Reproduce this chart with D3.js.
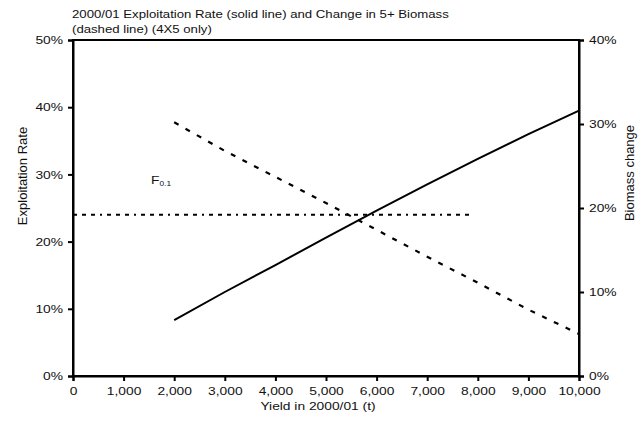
<!DOCTYPE html>
<html>
<head>
<meta charset="utf-8">
<script src="https://cdn.jsdelivr.net/npm/d3@7"></script>
<style>
  body { margin: 0; background: #fff; }
  svg { display: block; font-family: "Liberation Sans", Arial, sans-serif; }
</style>
</head>
<body>
<svg id="chart" width="644" height="425"></svg>
<script>
// ---- Data ----
const yields = [2000, 3000, 4000, 5000, 6000, 7000, 8000, 9000, 10000];
const exploitationRate = [0.083, 0.125, 0.165, 0.206, 0.246, 0.285, 0.323, 0.360, 0.395];
const biomassChange = [0.302, 0.268, 0.237, 0.206, 0.174, 0.142, 0.111, 0.079, 0.050];
const fRefYields = [0, 7900];
const fRefValue = 0.24;
const xTicks = [0, 1000, 2000, 3000, 4000, 5000, 6000, 7000, 8000, 9000, 10000];
const leftTicks = [0, 0.1, 0.2, 0.3, 0.4, 0.5];
const rightTicks = [0, 0.1, 0.2, 0.3, 0.4];
const titleLines = ["2000/01 Exploitation Rate (solid line) and Change in 5+ Biomass", "(dashed line) (4X5 only)"];

const svg = d3.select("#chart");
const L = 73, R = 579, T = 40, B = 376;
const SX = 1.2; // horizontal text stretch seen in the reference
const INK = "#111";

const x = d3.scaleLinear().domain([0, 10000]).range([L, R]);
const yL = d3.scaleLinear().domain([0, 0.5]).range([B, T]);
const yR = d3.scaleLinear().domain([0, 0.4]).range([B, T]);

function stretch(sel) {
  sel.each(function() {
    const t = d3.select(this);
    const xv = +t.attr("x") || 0;
    t.attr("x", xv / SX).attr("transform", `scale(${SX},1)`);
  });
}

// frame
svg.append("rect").attr("x", L).attr("y", T).attr("width", R - L).attr("height", B - T)
  .attr("fill", "none").attr("stroke", "#000").attr("stroke-width", 2);

const fmtPct = d3.format(".0%");
const axL = svg.append("g").attr("transform", `translate(${L},0)`)
  .call(d3.axisLeft(yL).tickValues(leftTicks).tickFormat(fmtPct).tickSize(5).tickPadding(5));
const axR = svg.append("g").attr("transform", `translate(${R},0)`)
  .call(d3.axisRight(yR).tickValues(rightTicks).tickFormat(fmtPct).tickSize(5).tickPadding(5));
const axB = svg.append("g").attr("transform", `translate(0,${B})`)
  .call(d3.axisBottom(x).tickValues(xTicks).tickFormat(d3.format(",")).tickSize(5).tickPadding(6));

[axL, axR, axB].forEach(g => {
  g.select(".domain").attr("stroke", "#000").attr("stroke-width", 2);
  g.selectAll(".tick line").attr("stroke", "#000").attr("stroke-width", 2);
  g.selectAll(".tick text").attr("fill", INK).attr("font-size", 11.5)
    .attr("font-family", "Liberation Sans, Arial, sans-serif").call(stretch);
});

// lines
const solid = d3.line().x((d, i) => x(yields[i])).y(d => yL(d));
svg.append("path").datum(exploitationRate).attr("d", solid)
  .attr("fill", "none").attr("stroke", "#000").attr("stroke-width", 2);

const dashed = d3.line().x((d, i) => x(yields[i])).y(d => yR(d));
svg.append("path").datum(biomassChange).attr("d", dashed)
  .attr("fill", "none").attr("stroke", "#000").attr("stroke-width", 2.2)
  .attr("stroke-dasharray", "5,8");

svg.append("path").datum(fRefYields)
  .attr("d", d3.line().x(d => x(d)).y(() => yL(fRefValue)))
  .attr("fill", "none").attr("stroke", "#000").attr("stroke-width", 2)
  .attr("stroke-dasharray", "4,5,4,5,4,5,2,5");

// F0.1 label
const fl = svg.append("text").attr("x", 151 / SX).attr("y", 184).attr("transform", `scale(${SX},1)`)
  .attr("font-size", 11.5).attr("fill", INK);
fl.append("tspan").text("F");
fl.append("tspan").attr("font-size", 7).attr("dy", 2).text("0.1");

// title
svg.append("g").selectAll("text").data(titleLines).join("text")
  .attr("x", 72 / SX).attr("y", (d, i) => 18 + i * 15).attr("transform", `scale(${SX},1)`)
  .attr("font-size", 11).attr("fill", INK).text(d => d);

// axis titles
svg.append("text").attr("x", 318 / SX).attr("y", 410).attr("transform", `scale(${SX},1)`)
  .attr("text-anchor", "middle").attr("font-size", 11.5).attr("fill", INK)
  .text("Yield in 2000/01 (t)");
svg.append("text").attr("transform", `translate(27,176) rotate(-90)`)
  .attr("text-anchor", "middle").attr("font-size", 13).attr("fill", INK)
  .text("Exploitation Rate");
svg.append("text").attr("transform", `translate(634,173) rotate(-90)`)
  .attr("text-anchor", "middle").attr("font-size", 13).attr("fill", INK)
  .text("Biomass change");
</script>
</body>
</html>
